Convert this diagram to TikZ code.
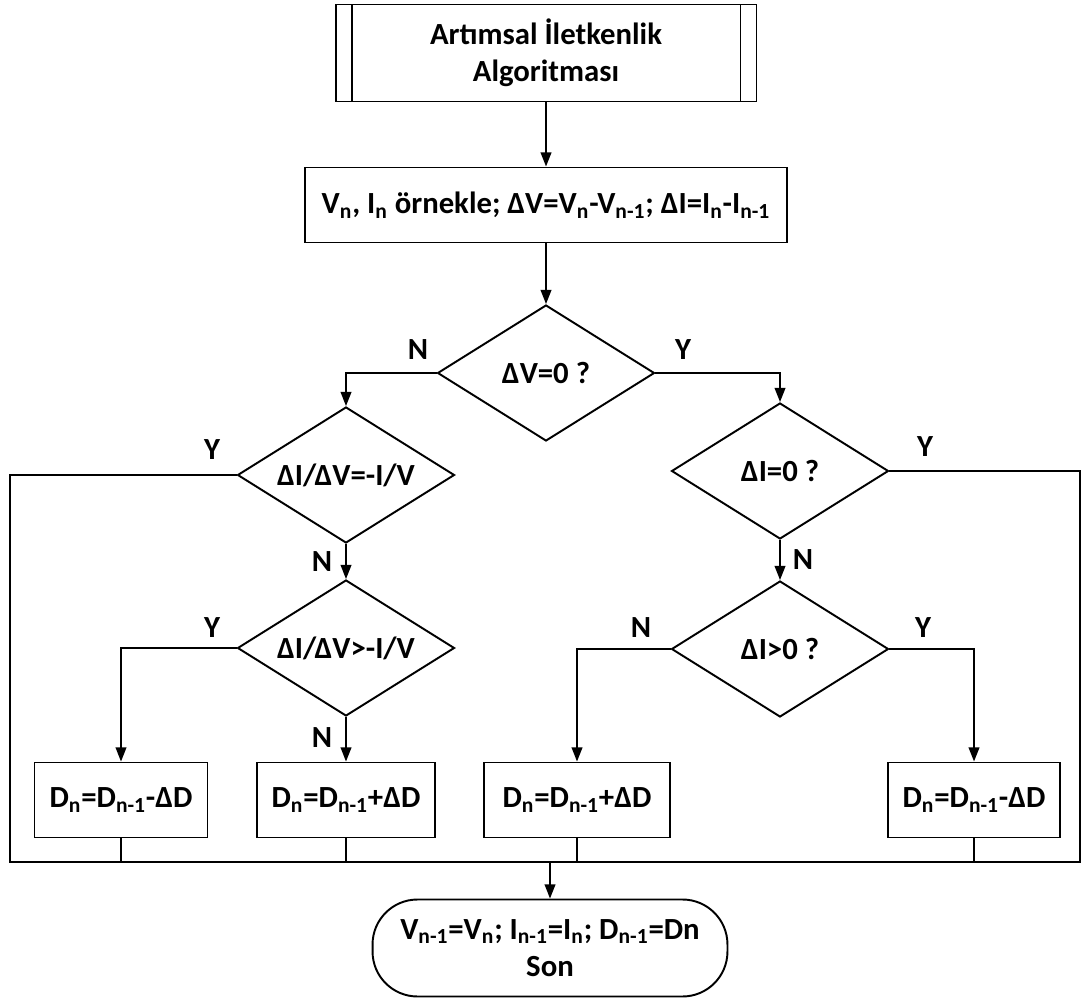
\documentclass[tikz,border=0pt]{standalone}
\usepackage{fontspec}
\setmainfont{Carlito}
\usetikzlibrary{positioning,arrows.meta,shapes.geometric}
\newcommand{\ix}[1]{\textsubscript{#1}}
\tikzset{
  base/.style={draw,line width=1.1pt,font=\bfseries\fontsize{17.5}{21}\selectfont,align=center,inner sep=2pt},
  proc/.style={base,rectangle,minimum height=1.5cm},
  pproc/.style={base,rectangle,minimum width=8.42cm,minimum height=1.94cm,
    path picture={
      \draw[line width=1.1pt] ([xshift=0.32cm]path picture bounding box.north west) -- ([xshift=0.32cm]path picture bounding box.south west);
      \draw[line width=1.1pt] ([xshift=-0.32cm]path picture bounding box.north east) -- ([xshift=-0.32cm]path picture bounding box.south east);}},
  dec/.style={base,diamond,aspect=1.6,minimum width=4.34cm,minimum height=2.72cm,inner sep=0pt},
  term/.style={base,rectangle,rounded corners=0.9cm,minimum width=7.1cm,minimum height=1.94cm},
  lbl/.style={font=\bfseries\fontsize{17.5}{21}\selectfont,inner sep=0pt},
  wire/.style={line width=1.1pt},
  arr/.style={line width=1.1pt,-{Triangle[length=8pt,width=6pt]}}
}
\begin{document}
\begin{tikzpicture}[x=0.02cm,y=-0.02cm]
  \useasboundingbox (0,0) rectangle (1082,1003);
  % blocks
  \node[pproc] (start) at (546,53) {Artımsal İletkenlik\\Algoritması};
  \node[proc,minimum width=9.66cm] (smp) at (546,205) {V\ix{n}, I\ix{n} örnekle; ΔV=V\ix{n}-V\ix{n-1}; ΔI=I\ix{n}-I\ix{n-1}};
  \node[dec] (dv) at (546,373) {ΔV=0 ?};
  \node[dec] (eq) at (346,475) {ΔI/ΔV=-I/V};
  \node[dec] (gt) at (346,648) {ΔI/ΔV>-I/V};
  \node[dec] (di) at (780,471) {ΔI=0 ?};
  \node[dec] (pos) at (780,649) {ΔI>0 ?};
  \node[proc,minimum width=3.46cm] (decA) at (121,800) {D\ix{n}=D\ix{n-1}-ΔD};
  \node[proc,minimum width=3.56cm] (incA) at (346,800) {D\ix{n}=D\ix{n-1}+ΔD};
  \node[proc,minimum width=3.72cm] (incB) at (577,800) {D\ix{n}=D\ix{n-1}+ΔD};
  \node[proc,minimum width=3.44cm] (decB) at (974,800) {D\ix{n}=D\ix{n-1}-ΔD};
  \node[term] (fin) at (550,948) {V\ix{n-1}=V\ix{n}; I\ix{n-1}=I\ix{n}; D\ix{n-1}=Dn\\Son};
  \coordinate (busL) at (10,862);
  \coordinate (busR) at (1080,862);
  % labels
  \node[lbl] (dvN) at (418,350) {N};
  \node[lbl] (dvY) at (683,350) {Y};
  \node[lbl] (eqY) at (212,450) {Y};
  \node[lbl] (eqN) at (322,562) {N};
  \node[lbl] (gtY) at (212,628) {Y};
  \node[lbl] (gtN) at (322,738) {N};
  \node[lbl] (diY) at (925,447) {Y};
  \node[lbl] (diN) at (803,560) {N};
  \node[lbl] (posN) at (641,628) {N};
  \node[lbl] (posY) at (923,628) {Y};
  % connectors
  \draw[arr] (start) -- (smp);
  \draw[arr] (smp) -- (dv);
  \draw[arr] (dv.west) -| (eq.north);
  \draw[arr] (dv.east) -| (di.north);
  \draw[arr] (eq.south) -- (gt.north);
  \draw[arr] (di.south) -- (pos.north);
  \draw[arr] (gt.west) -| (decA.north);
  \draw[arr] (gt.south) -- (incA.north);
  \draw[arr] (pos.west) -| (incB.north);
  \draw[arr] (pos.east) -| (decB.north);
  \draw[wire] (eq.west) -| (busL) -- (busR) |- (di.east);
  \foreach \b in {decA,incA,incB,decB}
    \draw[wire] (\b.south) -- (\b.south |- busL);
  \draw[arr] (fin.north |- busL) -- (fin.north);
\end{tikzpicture}
\end{document}
